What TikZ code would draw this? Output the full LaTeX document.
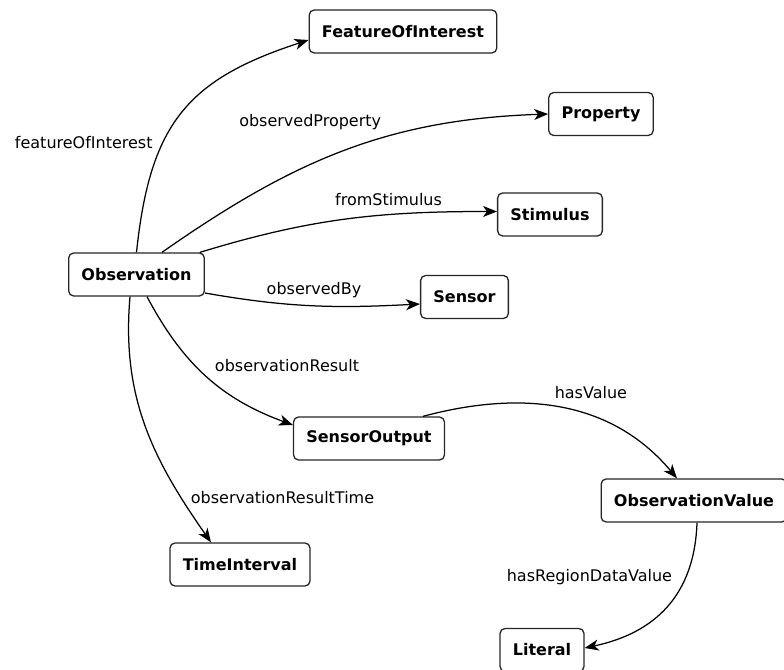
\documentclass[tikz,border=0pt]{standalone}
\usepackage{fontspec}
\setmainfont{DejaVu Sans}
\usetikzlibrary{arrows.meta}

\tikzset{
  cls/.style={draw=black!85, line width=1.3pt, rounded corners=5pt, fill=white,
    minimum height=43pt, inner xsep=12.8pt, font=\fontsize{16}{19}\selectfont\bfseries},
  rel/.style={-{Stealth[length=14pt,width=11pt,inset=4pt]}, line width=1.25pt},
  lbl/.style={font=\fontsize{16}{19}\selectfont, inner sep=0pt}
}

\begin{document}
\begin{tikzpicture}[x=1pt, y=1pt]
\useasboundingbox (0,0) rectangle (784,669);

% classes
\node[cls] (foi)  at (403,637.5) {FeatureOfInterest};
\node[cls] (prop) at (601,555)   {Property};
\node[cls] (stim) at (550,454.5) {Stimulus};
\node[cls] (obs)  at (136.5,394.5) {Observation};
\node[cls] (sens) at (464.5,372) {Sensor};
\node[cls] (sout) at (369,230.5) {SensorOutput};
\node[cls] (oval) at (694,168.5) {ObservationValue};
\node[cls] (tint) at (240,104.5) {TimeInterval};
\node[cls] (lit)  at (542,19)    {Literal};

% properties
\draw[rel] (obs.north) to[out=84, in=198, looseness=1.2]
  node[lbl, xshift=-98pt, yshift=-29pt] {featureOfInterest} ([yshift=-8.5pt]foi.west);
\draw[rel] ([xshift=25.5pt]obs.north) to[out=35, in=182]
  node[lbl, xshift=-34pt, yshift=29pt] {observedProperty} (prop.west);
\draw[rel] ([xshift=-5pt]obs.north east) to[out=17, in=180]
  node[lbl, xshift=42pt, yshift=20pt] {fromStimulus} ([yshift=3pt]stim.west);
\draw[rel] ([yshift=-18.5pt]obs.east) to[out=-10, in=183]
  node[lbl, xshift=2pt, yshift=15.5pt] {observedBy} ([yshift=-7pt]sens.west);
\draw[rel] ([xshift=10.5pt]obs.south) to[out=-62, in=160]
  node[lbl, xshift=80.5pt, yshift=11pt] {observationResult} ([yshift=13.5pt]sout.west);
\draw[rel] ([xshift=-6.5pt]obs.south) to[out=-95, in=125]
  node[lbl, xshift=137pt, yshift=-71pt] {observationResultTime} ([xshift=-29pt]tint.north);
\draw[rel] ([xshift=54pt]sout.north) to[out=15, in=130]
  node[lbl, xshift=28.5pt, yshift=16pt] {hasValue} ([xshift=-17pt]oval.north);
\draw[rel] ([xshift=3pt]oval.south) to[out=-92, in=12, looseness=1.1]
  node[lbl, xshift=-77pt, yshift=30pt] {hasRegionDataValue} ([yshift=2pt]lit.east);
\end{tikzpicture}
\end{document}
